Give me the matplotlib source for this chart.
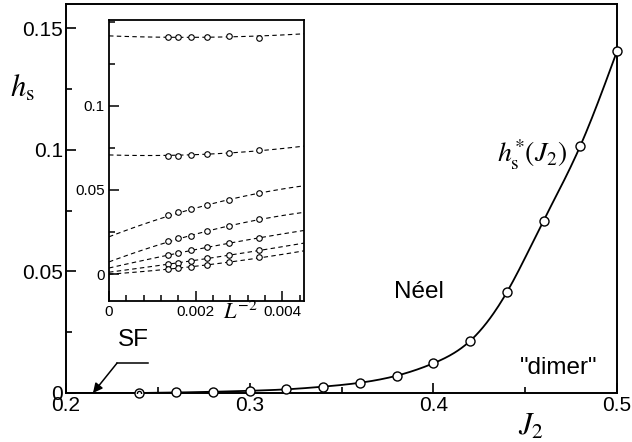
import numpy as np
import matplotlib
matplotlib.use("Agg")
import matplotlib.pyplot as plt
from matplotlib.ticker import MultipleLocator, FixedFormatter, FixedLocator

plt.rcParams['font.family'] = ['Liberation Sans', 'DejaVu Sans']
plt.rcParams['mathtext.fontset'] = 'stix'

# main curve: critical field h_s*(J2)
j2 = [0.24, 0.26, 0.28, 0.30, 0.32, 0.34, 0.36, 0.38, 0.40, 0.42, 0.44, 0.46, 0.48, 0.50]
hs = [0.0000, 0.0002, 0.0005, 0.0009, 0.0015, 0.0026, 0.0042, 0.0071, 0.0122, 0.0214,
      0.0414, 0.0709, 0.1016, 0.1406]

# inset: finite-size values vs L^-2, L = 27, 25, 23, 21, 19, 17
sizes = [27, 25, 23, 21, 19, 17]
inset_h = [
    [0.1408, 0.1408, 0.1408, 0.1410, 0.1412, 0.1405],
    [0.0704, 0.0704, 0.0708, 0.0712, 0.0720, 0.0740],
    [0.0349, 0.0367, 0.0385, 0.0408, 0.0438, 0.0479],
    [0.0195, 0.0213, 0.0225, 0.0254, 0.0284, 0.0325],
    [0.0112, 0.0124, 0.0142, 0.0160, 0.0183, 0.0213],
    [0.0059, 0.0065, 0.0077, 0.0095, 0.0112, 0.0142],
    [0.0030, 0.0036, 0.0041, 0.0053, 0.0071, 0.0101],
]
# dashed fit curves: value at L^-2 = 0 and at the right edge
fit_left = [0.1414, 0.0710, 0.0219, 0.0071, 0.0036, 0.0012, 0.0000]
fit_right = [0.1432, 0.0757, 0.0527, 0.0367, 0.0260, 0.0183, 0.0136]


def natural_spline(x, y, xs):
    x = np.asarray(x, float)
    y = np.asarray(y, float)
    n = len(x)
    h = np.diff(x)
    A = np.zeros((n, n))
    r = np.zeros(n)
    A[0, 0] = A[-1, -1] = 1
    for i in range(1, n - 1):
        A[i, i - 1] = h[i - 1]
        A[i, i] = 2 * (h[i - 1] + h[i])
        A[i, i + 1] = h[i]
        r[i] = 6 * ((y[i + 1] - y[i]) / h[i] - (y[i] - y[i - 1]) / h[i - 1])
    m = np.linalg.solve(A, r)
    k = np.clip(np.searchsorted(x, xs) - 1, 0, n - 2)
    t = xs - x[k]
    hk = h[k]
    a = (m[k + 1] - m[k]) / (6 * hk)
    b = m[k] / 2
    c = (y[k + 1] - y[k]) / hk - hk * (2 * m[k] + m[k + 1]) / 6
    return y[k] + c * t + b * t ** 2 + a * t ** 3


fig = plt.figure(figsize=(6.32, 4.42), dpi=100)
ax = fig.add_axes([0.1044, 0.1109, 0.8719, 0.8801])

xs = np.linspace(j2[0], j2[-1], 400)
ax.plot([0.2, j2[0]], [0, 0], color='black', lw=1.3)
ax.plot(xs, natural_spline(j2, hs, xs), color='black', lw=1.3)
ax.plot(j2, hs, 'o', mfc='white', mec='black', ms=6.5, mew=1.0, clip_on=False, zorder=5)
ax.plot(j2[0], hs[0], 'o', mfc='none', mec='black', ms=3, mew=1.0, zorder=6)

ax.set_xlim(0.2, 0.5)
ax.set_ylim(0, 0.16)
ax.xaxis.set_major_locator(FixedLocator([0.2, 0.3, 0.4, 0.5]))
ax.xaxis.set_major_formatter(FixedFormatter(['0.2', '0.3', '0.4', '0.5']))
ax.xaxis.set_minor_locator(MultipleLocator(0.05))
ax.yaxis.set_major_locator(FixedLocator([0, 0.05, 0.1, 0.15]))
ax.yaxis.set_major_formatter(FixedFormatter(['0', '0.05', '0.1', '0.15']))
ax.yaxis.set_minor_locator(MultipleLocator(0.025))
ax.tick_params(which='both', direction='in', labelsize=15, width=1.2)
ax.tick_params(which='major', length=7, pad=2)
ax.tick_params(which='minor', length=4)
for s in ax.spines.values():
    s.set_linewidth(1.4)

ax.text(0.454, 0.098, r'$h_{\rm s}^{*}(J_2)$', fontsize=20, ha='center', va='center')
ax.text(0.392, 0.0415, 'Néel', fontsize=17.5, ha='center', va='center')
ax.text(0.468, 0.0103, '"dimer"', fontsize=17.5, ha='center', va='center')
ax.text(0.2368, 0.0218, 'SF', fontsize=17.5, ha='center', va='center')
ax.plot([0.2447, 0.2278], [0.0123, 0.0123], color='black', lw=1.1)
ax.annotate('', xy=(0.2147, 0.0), xytext=(0.2278, 0.0123),
            arrowprops=dict(arrowstyle='-|>', color='black', lw=1.1,
                            mutation_scale=14, shrinkA=0, shrinkB=0))

fig.text(0.035, 0.80, r'$h_{\rm s}$', fontsize=22, ha='center', va='center')
fig.text(0.84, 0.035, r'$J_2$', fontsize=22, ha='center', va='center')

# inset
ins = fig.add_axes([0.1725, 0.319, 0.3085, 0.6358])
xlim_in = 0.0045
for k, vals in enumerate(inset_h):
    xi = [1.0 / L ** 2 for L in sizes]
    xf = [0.0] + xi + [xlim_in]
    yf = [fit_left[k]] + vals + [fit_right[k]]
    coef = np.polyfit(xf, yf, 2)
    xx = np.linspace(0, xlim_in, 100)
    ins.plot(xx, np.polyval(coef, xx), color='black', lw=0.8, ls=(0, (4, 3)))
    ins.plot(xi, vals, 'o', mfc='white', mec='black', ms=4, mew=0.8, zorder=5)

ins.set_xlim(0, xlim_in)
ins.set_ylim(-0.016, 0.151)
ins.xaxis.set_major_locator(FixedLocator([0, 0.002, 0.004]))
ins.xaxis.set_major_formatter(FixedFormatter(['0', '0.002', '0.004']))
ins.xaxis.set_minor_locator(MultipleLocator(0.0004))
ins.yaxis.set_major_locator(FixedLocator([0, 0.05, 0.1]))
ins.yaxis.set_major_formatter(FixedFormatter(['0', '0.05', '0.1']))
ins.yaxis.set_minor_locator(MultipleLocator(0.025))
ins.tick_params(which='both', direction='in', labelsize=11, width=1.1)
ins.tick_params(which='major', length=7, pad=3)
ins.tick_params(which='minor', length=4)
for s in ins.spines.values():
    s.set_linewidth(1.3)
fig.text(0.38, 0.292, r'$L^{-2}$', fontsize=16, ha='center', va='center')

fig.savefig('out.png', dpi=100)
